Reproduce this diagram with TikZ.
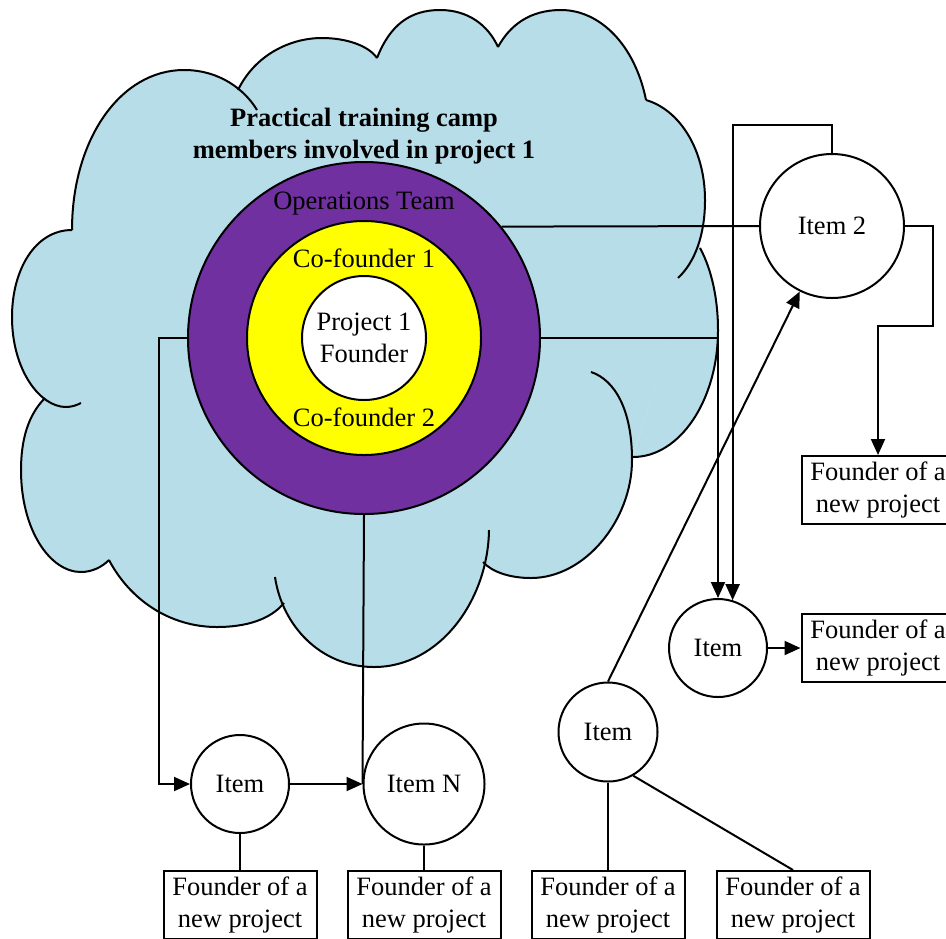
\documentclass[tikz,border=0pt]{standalone}
\usepackage{fontspec}
\setmainfont{Liberation Serif}
\usetikzlibrary{arrows.meta}
\definecolor{cloudblue}{HTML}{B7DDE8}
\definecolor{teampurple}{HTML}{7030A0}
\definecolor{cofyellow}{HTML}{FFFF00}
\tikzset{
  item/.style={circle,draw,fill=white,inner sep=0pt},
  newbox/.style={draw,fill=white,minimum width=76.5pt,minimum height=34pt,inner sep=0pt,align=center},
  arr/.style={-{Triangle[length=8pt,width=7pt]}},
}
% cloud lobes (pixel units, y down)
\def\lobeA{(72,230) .. controls (72,140) and (120,70) .. (184,70) .. controls (220,70) and (245,90) .. (257,110)}
\def\lobeB{(238,90) .. controls (255,55) and (290,38) .. (322,38) .. controls (345,38) and (368,45) .. (377,58)}
\def\lobeC{(377,58) .. controls (390,25) and (410,10) .. (440,10) .. controls (468,10) and (488,25) .. (498,47)}
\def\lobeD{(498,47) .. controls (510,25) and (530,10) .. (561,10) .. controls (600,10) and (635,45) .. (646,100)}
\def\lobeE{(646,100) .. controls (680,110) and (705,150) .. (705,200) .. controls (705,235) and (695,262) .. (678,278)}
\def\lobeF{(700,248) .. controls (712,270) and (718,300) .. (718,330) .. controls (718,400) and (680,457) .. (633,457)}
\def\lobeG{(591,372) .. controls (615,380) and (632,410) .. (632,460) .. controls (632,520) and (585,578) .. (531,578) .. controls (510,578) and (492,572) .. (483,562)}
\def\lobeH{(489,530) .. controls (488,600) and (440,667) .. (374,667) .. controls (320,667) and (282,625) .. (275,577)}
\def\lobeI{(284,603) .. controls (270,620) and (245,627) .. (217,627) .. controls (170,627) and (130,600) .. (109,560)}
\def\lobeJ{(45,398) .. controls (28,415) and (21,440) .. (21,470) .. controls (21,530) and (50,572) .. (81,572) .. controls (92,572) and (102,567) .. (109,560)}
\def\lobeK{(72,230) .. controls (35,230) and (12,270) .. (12,317) .. controls (12,370) and (40,407) .. (66,407) .. controls (72,407) and (77,405) .. (81,403)}

\begin{document}
\begin{tikzpicture}[x=0.5pt,y=-0.5pt,line width=1pt,font=\fontsize{13.25}{16}\selectfont]
  \useasboundingbox (0,0) rectangle (946,938);
  % cloud
  \fill[cloudblue,draw=cloudblue,line width=0.4pt] (72,230) -- (238,90) -- (377,58) -- (498,47) -- (646,100) -- (700,248) -- (632,457) -- (483,562) -- (284,603) -- (109,560) -- (45,398) -- cycle;
  \foreach \lobe in {\lobeA,\lobeB,\lobeC,\lobeD,\lobeE,\lobeF,\lobeG,\lobeH,\lobeI,\lobeJ,\lobeK}
    {\fill[cloudblue,draw=cloudblue,line width=0.4pt] \lobe -- cycle;}
  \foreach \lobe in {\lobeA,\lobeB,\lobeC,\lobeD,\lobeE,\lobeF,\lobeG,\lobeH,\lobeI,\lobeJ,\lobeK}
    {\draw \lobe;}
  \node[font={\fontsize{13.25}{16}\selectfont\bfseries},align=center] (title) at (364,136) {Practical training camp\\members involved in project 1};

  % rings
  \node[circle,draw,fill=teampurple,minimum size=176pt,inner sep=0pt] (ops) at (364,338) {};
  \node[circle,draw,fill=cofyellow,minimum size=117pt,inner sep=0pt] (cof) at (364,338) {};
  \node[circle,draw,fill=white,minimum size=62pt,inner sep=0pt,align=center] (founder) at (364,338) {Project 1\\Founder};
  \node[anchor=base] (opstext) at (364,209) {Operations Team};
  \node[anchor=base] (cofa) at (364,267) {Co-founder 1};
  \node[anchor=base] (cofb) at (364,426) {Co-founder 2};

  % items
  \node[item,minimum size=72pt] (item2) at (832,226) {Item 2};
  \node[item,minimum size=49pt] (itemr) at (718,648) {Item};
  \node[item,minimum size=49.5pt] (itemc) at (608,732) {Item};
  \node[item,minimum size=49pt] (itemb) at (240,784) {Item};
  \node[item,minimum size=60.5pt] (itemN) at (424,784) {Item N};

  % founders of new projects
  \node[newbox] (boxr1) at (878,490) {Founder of a\\new project};
  \node[newbox] (boxr2) at (878,648) {Founder of a\\new project};
  \node[newbox] (boxb1) at (240,905) {Founder of a\\new project};
  \node[newbox] (boxb2) at (424,905) {Founder of a\\new project};
  \node[newbox] (boxc1) at (608,905) {Founder of a\\new project};
  \node[newbox] (boxc2) at (793,905) {Founder of a\\new project};

  % connectors
  \draw (ops.39.5) -- (item2.west);
  \draw[arr] (item2.north) -- ++(0,-28) -| (itemr.73);
  \draw[arr] (ops.east) -| (itemr.north);
  \draw[arr] (item2.east) -- ++(28,0) -- ++(0,100) -| (boxr1.north);
  \draw[arr] (itemr.east) -- (boxr2.west);
  \draw[arr] (itemc.north) -- (item2);
  \draw (itemc.south) -- (boxc1.north);
  \draw (itemc.-60) -- (boxc2.north);
  \draw[arr] (ops.west) -- ++(-28,0) |- (itemb.west);
  \draw[arr] (itemb.east) -- (itemN.west);
  \draw (ops.south) -- (itemN.west);
  \draw (itemb.south) -- (boxb1.north);
  \draw (itemN.south) -- (boxb2.north);
\end{tikzpicture}
\end{document}
